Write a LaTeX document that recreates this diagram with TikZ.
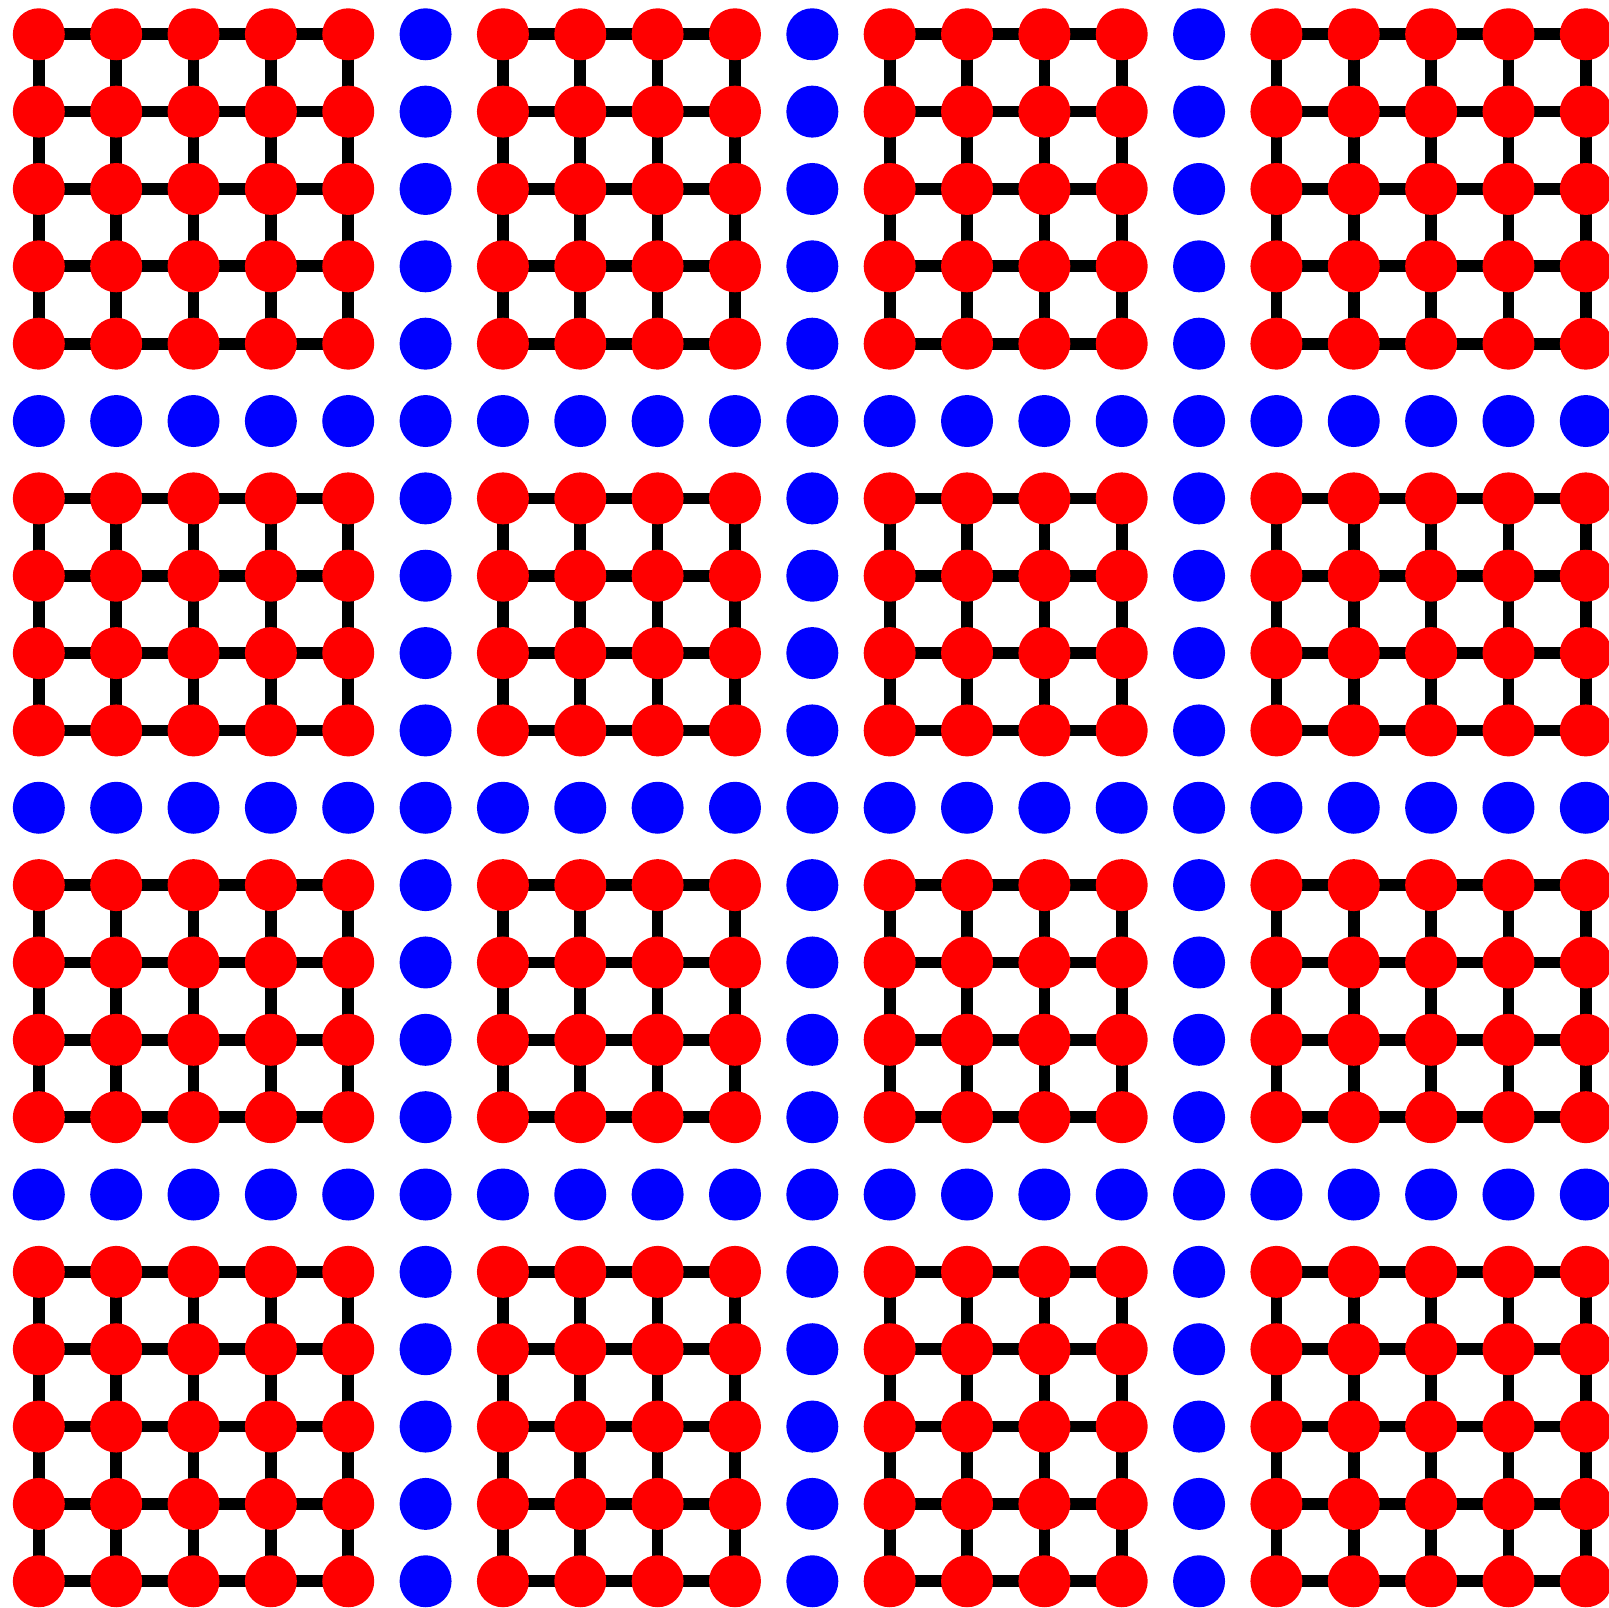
\documentclass[tikz,border=0pt]{standalone}
\usepackage{tikz}
\pgfdeclarelayer{fondo}
\pgfsetlayers{fondo,main}

\begin{document}
\begin{tikzpicture}[
  sitio/.style={circle, inner sep=0pt, minimum size=0.672cm},
  enlace/.style={line width=4.3pt}]
  \useasboundingbox (-0.502,0.443) rectangle (20.30,-20.345);
  % sitios: azules en las filas y columnas 5, 10 y 15, rojos en el resto
  \foreach \i in {0,...,20}
    \foreach \j in {0,...,20} {
      \pgfmathtruncatemacro\ci{(\i==5)||(\i==10)||(\i==15)}
      \pgfmathtruncatemacro\cj{(\j==5)||(\j==10)||(\j==15)}
      \ifnum\numexpr\ci+\cj\relax>0 \def\col{blue}\else\def\col{red}\fi
      \node[sitio, fill=\col] (v-\i-\j) at (\i,-\j) {};
    }
  % enlaces entre vecinos rojos dentro de cada bloque
  \begin{pgfonlayer}{fondo}
    \foreach \a/\b in {0/4,6/9,11/14,16/20}
      \foreach \c/\d in {0/4,6/9,11/14,16/20}
        \foreach \i in {\a,...,\b}
          \foreach \j in {\c,...,\d} {
            \pgfmathtruncatemacro\ii{\i+1}
            \pgfmathtruncatemacro\jj{\j+1}
            \ifnum\i<\b \draw[enlace] (v-\i-\j.center) -- (v-\ii-\j.center); \fi
            \ifnum\j<\d \draw[enlace] (v-\i-\j.center) -- (v-\i-\jj.center); \fi
          }
  \end{pgfonlayer}
\end{tikzpicture}
\end{document}
